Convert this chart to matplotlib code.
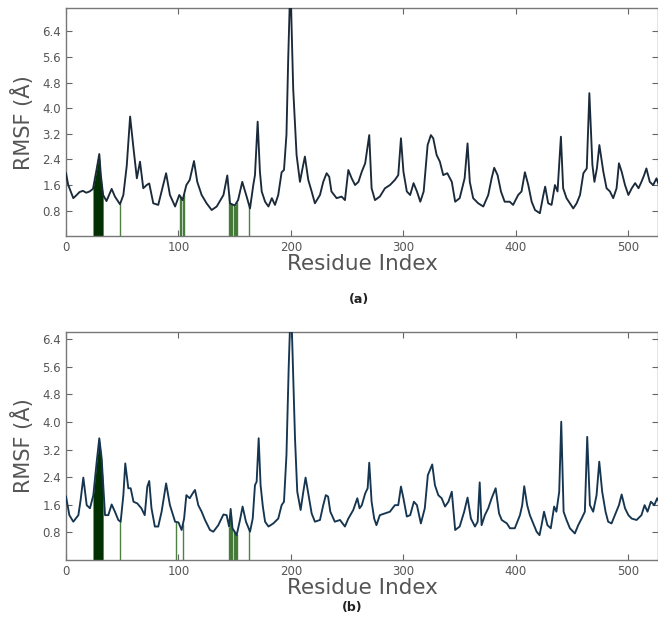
import numpy as np
import matplotlib
matplotlib.use("Agg")
import matplotlib.pyplot as plt

# ---------------- data ----------------
res_a = [0, 2, 6.5, 9.5, 12, 15, 18, 21, 24, 27, 29.6, 31, 33, 36, 40.6, 43.5, 48, 51, 54, 57, 60, 63,
         65.8, 68.7, 71.7, 74, 77.6, 82, 85, 89, 92.4, 97, 100.7, 103.7, 107, 110, 113.8, 116.7, 120.6,
         125, 129.5, 134, 140, 143.4, 145.8, 150, 153, 156.7, 160.6, 163.6, 166.5, 168, 170.4, 172.4,
         174, 177, 180, 183, 185.8, 188.7, 191.7, 193.8, 196, 197.6, 199.5, 202, 205, 208, 210, 212.4,
         215.4, 218.4, 221.3, 225.8, 228.7, 231.7, 234, 236, 240.6, 245, 248, 251, 254, 257, 260, 263,
         266, 269.6, 271.7, 274.7, 279, 283.6, 288, 292.4, 295.4, 297.8, 300, 303, 306, 309, 312, 315,
         318, 321.5, 324.4, 326.5, 329.5, 332.4, 335.4, 339, 343, 346, 350, 354.4, 357, 359, 362, 366.5,
         371, 375.4, 378.4, 380.7, 383.7, 386.7, 390, 394.5, 397.5, 402, 405, 408, 411, 414, 417, 421.3,
         424.4, 426, 428.7, 431.7, 434.7, 437, 440, 442, 445, 448, 451, 454, 457, 460, 463, 465.3, 468,
         469.8, 472, 474.2, 477.7, 480.6, 483.6, 486.5, 489.5, 491.6, 494, 497, 500, 503, 506, 509,
         511.6, 514, 516, 519, 522, 525, 527]
rmsf_a = [1.97, 1.60, 1.19, 1.29, 1.38, 1.42, 1.36, 1.40, 1.48, 2.05, 2.57, 1.90, 1.29, 1.10, 1.48, 1.24,
          1.00, 1.29, 2.20, 3.74, 2.75, 1.81, 2.33, 1.50, 1.60, 1.65, 1.03, 0.98, 1.40, 1.97, 1.29, 0.93,
          1.29, 1.13, 1.60, 1.76, 2.35, 1.70, 1.29, 1.03, 0.82, 0.93, 1.29, 1.90, 1.03, 0.96, 1.13, 1.70,
          1.24, 0.87, 1.60, 1.91, 3.58, 2.02, 1.40, 1.08, 0.93, 1.19, 0.98, 1.29, 2.00, 2.07, 3.17, 5.60,
          8.00, 4.60, 2.54, 1.70, 2.07, 2.49, 1.76, 1.40, 1.03, 1.29, 1.70, 1.97, 1.86, 1.40, 1.19, 1.24,
          1.13, 2.07, 1.81, 1.60, 1.70, 2.02, 2.28, 3.16, 1.50, 1.13, 1.24, 1.50, 1.60, 1.76, 1.91, 3.06,
          2.02, 1.40, 1.29, 1.66, 1.40, 1.08, 1.40, 2.85, 3.16, 3.06, 2.54, 2.33, 1.91, 1.97, 1.70, 1.08,
          1.19, 1.81, 2.90, 1.70, 1.19, 1.03, 0.93, 1.29, 1.81, 2.14, 1.91, 1.40, 1.08, 1.08, 0.98, 1.29,
          1.40, 2.00, 1.60, 1.08, 0.82, 0.72, 1.29, 1.55, 1.03, 0.98, 1.60, 1.40, 3.11, 1.50, 1.19, 1.03,
          0.87, 1.03, 1.29, 1.97, 2.12, 4.47, 2.23, 1.70, 2.12, 2.85, 2.02, 1.50, 1.40, 1.19, 1.50, 2.28,
          2.02, 1.60, 1.29, 1.50, 1.66, 1.50, 1.70, 1.91, 2.12, 1.70, 1.60, 1.81, 1.60]

res_b = [0, 3, 6.5, 11, 13, 15.4, 18.4, 21.3, 24.3, 27.3, 29.6, 31.7, 34.7, 37.6, 40.6, 43.5, 46.5, 48.6,
         51, 52.7, 55.4, 57.5, 60, 63.4, 67, 70, 72.3, 74, 76, 79, 82, 85, 89, 92.4, 97, 100, 102.8, 105,
         107, 110, 112.6, 114.7, 117.6, 120.6, 123.6, 128, 131, 135.4, 140, 142.8, 145, 146.4, 148, 151.7,
         154.7, 157, 160, 163.6, 166, 168, 169.5, 171.3, 173, 175, 177, 180, 184.3, 188.7, 191.7, 193.8,
         196, 198, 200, 203.6, 205.6, 208.6, 211, 213, 215.4, 218.4, 221.3, 225.8, 228.7, 231, 233, 235,
         239, 243.6, 248, 251, 255.4, 259, 261, 263, 266, 268.2, 269.6, 271.7, 274, 276, 279, 283.6, 288,
         292.4, 295.4, 297.8, 300, 303, 306, 309.3, 312, 315.5, 319, 321.7, 325.6, 328, 331, 334, 337,
         340, 343, 346, 350, 354, 357, 360, 363.6, 366, 367.8, 369.5, 372.4, 375.4, 378.4, 382, 385,
         387.4, 392, 394.7, 399, 403.6, 405.6, 407.4, 410, 412.4, 415.4, 418.4, 421, 422.8, 425, 428, 431,
         434, 436, 438.5, 440.3, 442.4, 445, 448, 452.4, 455.4, 458.4, 461.3, 463.4, 465.8, 468.7, 471.7,
         474.1, 476.7, 479.7, 482, 485, 488, 491.6, 494, 497, 500, 503, 507.3, 511.6, 514.4, 517, 520,
         523, 525.6, 527]
rmsf_b = [1.84, 1.30, 1.11, 1.30, 1.74, 2.39, 1.59, 1.50, 1.88, 2.85, 3.53, 2.95, 1.30, 1.30, 1.61, 1.40,
          1.16, 1.11, 1.88, 2.80, 2.08, 2.08, 1.69, 1.64, 1.50, 1.30, 2.13, 2.29, 1.50, 0.97, 0.97, 1.40,
          2.22, 1.59, 1.11, 1.09, 0.87, 1.20, 1.88, 1.79, 1.93, 2.03, 1.59, 1.40, 1.16, 0.87, 0.82, 1.01,
          1.32, 1.30, 0.97, 1.48, 0.92, 0.72, 1.16, 1.55, 1.11, 0.82, 1.20, 2.17, 2.27, 3.53, 2.17, 1.55,
          1.11, 0.97, 1.06, 1.20, 1.59, 1.69, 3.04, 5.60, 7.60, 3.53, 1.98, 1.45, 1.98, 2.39, 1.93, 1.35,
          1.11, 1.16, 1.59, 1.88, 1.84, 1.40, 1.11, 1.16, 0.97, 1.20, 1.45, 1.79, 1.50, 1.59, 1.93, 2.08,
          2.82, 1.69, 1.20, 1.01, 1.30, 1.35, 1.40, 1.59, 1.59, 2.13, 1.79, 1.26, 1.30, 1.69, 1.59, 1.06,
          1.50, 2.46, 2.77, 2.17, 1.88, 1.79, 1.55, 1.69, 1.98, 0.87, 0.97, 1.40, 1.81, 1.20, 0.97, 1.11,
          2.25, 1.01, 1.30, 1.50, 1.79, 2.08, 1.35, 1.16, 1.06, 0.92, 0.92, 1.30, 1.59, 2.14, 1.59, 1.30,
          1.06, 0.82, 0.72, 1.01, 1.40, 1.01, 0.92, 1.55, 1.40, 1.98, 4.01, 1.40, 1.16, 0.92, 0.77, 1.01,
          1.20, 1.40, 3.57, 1.59, 1.40, 1.88, 2.85, 1.98, 1.40, 1.11, 1.06, 1.30, 1.59, 1.90, 1.50, 1.30,
          1.20, 1.16, 1.30, 1.59, 1.40, 1.69, 1.59, 1.79, 1.70]

# ligand-contact residues (green marks)
dense_a = (24, 33)
contacts_a = [48, 101, 102, 104, 105, 145, 146, 147, 148, 149, 150, 151, 152, 163]
dense_b = (24, 33)
contacts_b = [48, 98, 104, 145, 146, 147, 148, 149, 150, 151, 152, 163]

yticks = [0.8, 1.6, 2.4, 3.2, 4.0, 4.8, 5.6, 6.4]
xticks = [0, 100, 200, 300, 400, 500]

# ---------------- figure ----------------
fig = plt.figure(figsize=(6.58, 6.2), dpi=100)
ax_a = fig.add_axes([0.1003, 0.6189, 0.9, 0.3682])
ax_b = fig.add_axes([0.1003, 0.0968, 0.9, 0.3682])

def draw(ax, res, rmsf, dense, contacts, ytop, lcolor):
    res = np.asarray(res, float)
    rmsf = np.asarray(rmsf, float)
    xs = np.arange(dense[0], dense[1] + 0.01, 0.1)
    ys = np.interp(xs, res, rmsf)
    ax.fill_between(xs, 0, ys, color="#023002", lw=0)
    ch = np.interp(contacts, res, rmsf)
    ax.vlines(contacts, 0, ch, color="#2f6a1f", lw=1.0, alpha=0.85)
    ax.plot(res, rmsf, color=lcolor, lw=1.35, zorder=3)
    ax.set_xlim(0, 526.5)
    ax.set_ylim(0, ytop)
    ax.set_yticks(yticks)
    ax.set_xticks(xticks)
    ax.tick_params(direction="in", top=True, right=True, length=4, width=0.8,
                   color="#666666", labelcolor="#555555", labelsize=8.5)
    for s in ax.spines.values():
        s.set_color("#777777")
        s.set_linewidth(1.0)
    ax.set_xlabel("Residue Index", fontsize=15.5, color="#555555", labelpad=0)
    ax.set_ylabel("RMSF (Å)", fontsize=15, color="#555555", labelpad=6)

draw(ax_a, res_a, rmsf_a, dense_a, contacts_a, 7.13, "#1b2a3a")
draw(ax_b, res_b, rmsf_b, dense_b, contacts_b, 6.62, "#163550")

fig.text(0.545, 1 - 300 / 620, "(a)", ha="center", va="center", fontsize=9, fontweight="bold", color="#222222")
fig.text(0.535, 1 - 607 / 620, "(b)", ha="center", va="center", fontsize=9, fontweight="bold", color="#222222")

fig.savefig("out.png", dpi=100)
